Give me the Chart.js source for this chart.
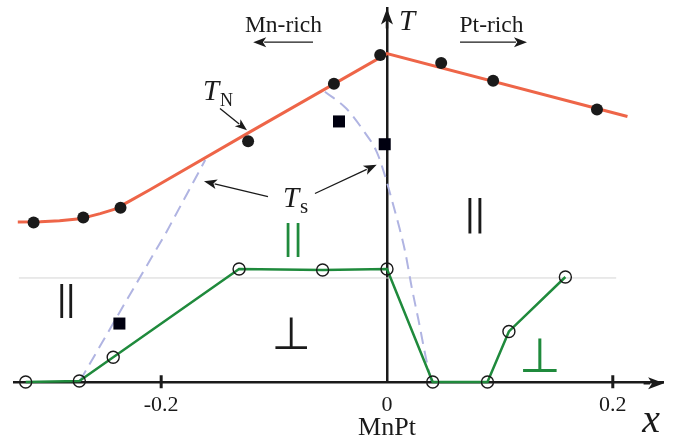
<!DOCTYPE html>
<html><head><meta charset="utf-8">
<script src="https://cdn.jsdelivr.net/npm/chart.js@4"></script>
<style>html,body{margin:0;padding:0;background:#fff}</style>
</head><body>
<canvas id="c" width="673" height="442"></canvas>
<script>
// ---- data (x = composition, T = temperature in arbitrary units) ----
const xTicks = [-0.2, 0, 0.2];
const xTickLabels = ['-0.2', '0', '0.2'];

// T_N measured points
const tnX = [-0.313, -0.269, -0.236, -0.123, -0.047, -0.006, 0.048, 0.094, 0.186];
const tnT = [1.61, 1.66, 1.76, 2.43, 3.01, 3.30, 3.22, 3.04, 2.75];

// T_N guide line
const tnLineX = [-0.327, -0.307, -0.290, -0.272, -0.254, -0.241, -0.228, -0.210, -0.1213, 0.0, 0.213];
const tnLineT = [1.615, 1.618, 1.628, 1.647, 1.70, 1.745, 1.825, 1.94, 2.525, 3.315, 2.68];

// T_s dashed guide (two visible branches)
const tsLeftX = [-0.272, -0.235, -0.196, -0.161];
const tsLeftT = [0.01, 0.74, 1.50, 2.24];
const tsRightX = [-0.055, -0.036, -0.021, -0.009, -0.002, 0.004, 0.010, 0.016, 0.022, 0.028, 0.034, 0.039];
const tsRightT = [2.93, 2.76, 2.54, 2.32, 2.09, 1.85, 1.60, 1.32, 0.95, 0.62, 0.27, 0.01];

// T_s measured points (squares)
const sqX = [-0.237, -0.0425, -0.002];
const sqT = [0.59, 2.63, 2.40];

// spin-reorientation line (open circles)
const grX = [-0.320, -0.2725, -0.2425, -0.131, -0.057, 0.0, 0.0405, 0.089, 0.108, 0.158];
const grT = [0.0, 0.01, 0.25, 1.14, 1.13, 1.14, 0.0, 0.0, 0.51, 1.06];

// thin reference line
const refX = [-0.326, 0.203];
const refT = [1.05, 1.05];

const xMin = -0.33, xMax = 0.245, tMax = 3.77;

const pts = (xs, ys) => xs.map((v, i) => ({x: v, y: ys[i]}));

const INK = '#1a1a1a';
const ORANGE = '#ee6548';
const GREEN = '#1f8a3c';
const LAV = '#b0b4e2';

function arrow(ctx, x1, y1, x2, y2, len, half, lw) {
  const a = Math.atan2(y2 - y1, x2 - x1);
  const c = Math.cos(a), s = Math.sin(a);
  const bx = x2 - len * c, by = y2 - len * s;
  ctx.save();
  ctx.strokeStyle = INK; ctx.fillStyle = INK; ctx.lineWidth = lw;
  ctx.beginPath(); ctx.moveTo(x1, y1); ctx.lineTo(bx + 2 * c, by + 2 * s); ctx.stroke();
  ctx.beginPath();
  ctx.moveTo(x2, y2);
  ctx.lineTo(bx + half * s, by - half * c);
  ctx.lineTo(bx + len * 0.25 * c, by + len * 0.25 * s);
  ctx.lineTo(bx - half * s, by + half * c);
  ctx.closePath(); ctx.fill();
  ctx.restore();
}

function glyph(ctx, ch, cx, cy, h, family, color) {
  ctx.save();
  ctx.textAlign = 'left'; ctx.textBaseline = 'alphabetic';
  ctx.font = '100px ' + family;
  let m = ctx.measureText(ch);
  const gh = m.actualBoundingBoxAscent + m.actualBoundingBoxDescent;
  const fs = 100 * h / gh;
  ctx.font = fs + 'px ' + family;
  m = ctx.measureText(ch);
  const bx = cx - (m.actualBoundingBoxRight - m.actualBoundingBoxLeft) / 2;
  const by = cy + (m.actualBoundingBoxAscent - m.actualBoundingBoxDescent) / 2;
  ctx.fillStyle = color;
  ctx.fillText(ch, bx, by);
  ctx.restore();
}

function text(ctx, str, x, y, font, align, color) {
  ctx.save();
  ctx.font = font; ctx.textAlign = align || 'left'; ctx.textBaseline = 'alphabetic';
  ctx.fillStyle = color || INK;
  ctx.fillText(str, x, y);
  ctx.restore();
}

const decor = {
  id: 'decor',
  afterDraw(chart) {
    const ctx = chart.ctx;
    const X = v => chart.scales.x.getPixelForValue(v);
    const Y = v => chart.scales.y.getPixelForValue(v);
    const area = chart.chartArea;
    const axisY = Y(0) + 1.25;
    const axisX = X(0);

    // axis arrowheads
    arrow(ctx, area.right - 20, axisY, area.right + 0.5, axisY, 16, 6, 2.5);
    arrow(ctx, axisX, area.top + 20, axisX, area.top, 16, 6, 2.5);

    // tick marks (crossing the axis)
    ctx.save(); ctx.strokeStyle = INK; ctx.lineWidth = 3;
    chart.scales.x.ticks.forEach(t => {
      if (t.value === 0) return;
      const p = X(t.value);
      ctx.beginPath(); ctx.moveTo(p, axisY - 8); ctx.lineTo(p, axisY + 5); ctx.stroke();
    });
    ctx.restore();

    const serif = "'Liberation Serif', 'Times New Roman', serif";

    // axis names
    text(ctx, 'T', X(0.0106), Y(3.55), 'italic 29px ' + serif);
    text(ctx, 'x', X(0.2262), Y(-0.50), 'italic 40px ' + serif);
    text(ctx, 'MnPt', X(0), Y(-0.53), '26px ' + serif, 'center');

    // Mn-rich / Pt-rich
    text(ctx, 'Mn-rich', X(-0.0917), Y(3.53), '23.5px ' + serif, 'center');
    arrow(ctx, X(-0.0655), Y(3.43), X(-0.1185), Y(3.43), 13, 5, 1.3);
    text(ctx, 'Pt-rich', X(0.0926), Y(3.53), '23.5px ' + serif, 'center');
    arrow(ctx, X(0.0647), Y(3.43), X(0.1240), Y(3.43), 13, 5, 1.3);

    // T_N label
    text(ctx, 'T', X(-0.163), Y(2.85), 'italic 29px ' + serif);
    text(ctx, 'N', X(-0.148), Y(2.79), '18px ' + serif);
    arrow(ctx, X(-0.1479), Y(2.76), X(-0.1240), Y(2.54), 12, 4.5, 1.3);

    // T_s label
    text(ctx, 'T', X(-0.0921), Y(1.77), 'italic 29px ' + serif);
    text(ctx, 's', X(-0.0771), Y(1.71), '21px ' + serif);
    arrow(ctx, X(-0.1054), Y(1.87), X(-0.1621), Y(2.027), 13, 5, 1.3);
    arrow(ctx, X(-0.0638), Y(1.903), X(-0.0091), Y(2.193), 13, 5, 1.3);

    // phase symbols
    const sans = "'DejaVu Sans', sans-serif";
    const bars = (cxVal, cyVal, gap, h, color) => {
      const cx = X(cxVal), cy = Y(cyVal);
      glyph(ctx, '|', cx - gap / 2, cy, h, sans, color);
      glyph(ctx, '|', cx + gap / 2, cy, h, sans, color);
    };
    bars(-0.0833, 1.435, 10, 33, GREEN);
    bars(-0.2839, 0.82, 9, 34, INK);
    bars(0.0779, 1.675, 10, 35, INK);
    glyph(ctx, '\u22A5', X(-0.085), Y(0.49), 32, sans, INK);
    glyph(ctx, '\u22A5', X(0.1355), Y(0.27), 34, sans, GREEN);
  }
};

new Chart(document.getElementById('c'), {
  type: 'scatter',
  data: {
    datasets: [
      { data: pts(tnX, tnT), showLine: false, pointRadius: 6, pointBackgroundColor: INK, pointBorderColor: INK, pointBorderWidth: 0, order: 1, clip: false },
      { data: pts(sqX, sqT), showLine: false, pointStyle: 'rect', pointRadius: 8.5, pointBackgroundColor: '#000010', pointBorderColor: '#000010', pointBorderWidth: 0, order: 2, clip: false },
      { data: pts(grX, grT), showLine: true, borderColor: GREEN, borderWidth: 2.5, pointRadius: 6, pointBackgroundColor: 'rgba(255,255,255,0)', pointBorderColor: INK, pointBorderWidth: 1.4, order: 3, clip: false },
      { data: pts(tnLineX, tnLineT), showLine: true, borderColor: ORANGE, borderWidth: 3, pointRadius: 0, tension: 0, order: 4, clip: false },
      { data: pts(tsLeftX, tsLeftT), showLine: true, borderColor: LAV, borderWidth: 2, borderDash: [12, 7], pointRadius: 0, order: 5, clip: false },
      { data: pts(tsRightX, tsRightT), showLine: true, borderColor: LAV, borderWidth: 2, borderDash: [12, 7], pointRadius: 0, cubicInterpolationMode: 'monotone', order: 5, clip: false },
      { data: pts(refX, refT), showLine: true, borderColor: '#d4d4d4', borderWidth: 1, pointRadius: 0, order: 6, clip: false }
    ]
  },
  options: {
    responsive: false,
    devicePixelRatio: 1,
    animation: false,
    events: [],
    layout: { padding: { left: 14.4, right: 9.4, top: 5, bottom: 0 } },
    plugins: { legend: { display: false }, tooltip: { enabled: false } },
    scales: {
      x: {
        type: 'linear', position: 'bottom', min: xMin, max: xMax,
        grid: { display: false, drawTicks: false },
        border: { display: true, color: INK, width: 2.5 },
        afterBuildTicks: s => { s.ticks = xTicks.map(v => ({ value: v })); },
        afterFit: s => { s.height = 60; },
        ticks: {
          padding: 10,
          color: INK,
          font: { family: "'Liberation Serif', serif", size: 22 },
          callback: v => { const i = xTicks.indexOf(v); return i >= 0 ? xTickLabels[i] : ''; }
        }
      },
      y: {
        type: 'linear', position: { x: 0 }, min: 0, max: tMax,
        grid: { display: false, drawTicks: false },
        border: { display: true, color: INK, width: 2.5 },
        ticks: { display: false }
      }
    }
  },
  plugins: [decor]
});
</script>
</body></html>
